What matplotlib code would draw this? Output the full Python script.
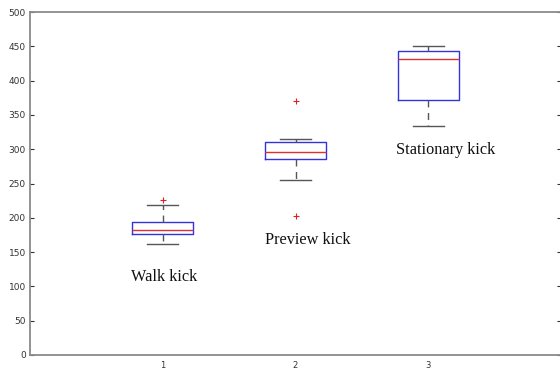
import matplotlib
matplotlib.use('Agg')
import matplotlib.pyplot as plt

labels = ['Walk kick', 'Preview kick', 'Stationary kick']
positions = [1, 2, 3]
whislo = [162, 255, 334]
q1 = [177, 285, 372]
med = [182, 296, 431]
q3 = [194, 310, 443]
whishi = [219, 315, 450]
fliers = [[226], [370, 203], []]
label_x = [1.01, 2.09, 3.13]
label_y = [113, 168, 299]

stats = []
for i in range(3):
    stats.append({'whislo': whislo[i], 'q1': q1[i], 'med': med[i], 'q3': q3[i],
                  'whishi': whishi[i], 'fliers': fliers[i]})

fig = plt.figure(figsize=(5.6, 3.7), dpi=100)
ax = fig.add_axes([30/560, 15/370, 531/560, 343/370])

ax.bxp(stats, positions=positions, widths=0.46,
       boxprops=dict(color='#3333dd', linewidth=1),
       medianprops=dict(color='#e03030', linewidth=1),
       whiskerprops=dict(color='#555555', linewidth=1, linestyle=(0, (5, 4))),
       capprops=dict(color='#555555', linewidth=1),
       flierprops=dict(marker='+', markeredgecolor='#e02020', markersize=5, markeredgewidth=0.8))

for x, y, t in zip(label_x, label_y, labels):
    ax.text(x, y, t, ha='center', va='center', fontsize=11.7, family='Liberation Serif',
            color='#111111')

ax.set_xlim(0, 4)
ax.set_ylim(0, 500)
ax.set_xticks([1, 2, 3])
ax.set_xticklabels(['1', '2', '3'])
ax.set_yticks(range(0, 501, 50))
ax.tick_params(axis='x', length=0, labelsize=6, colors='#333333', pad=4)
ax.tick_params(axis='y', length=3, direction='in', labelsize=6.5, colors='#333333',
               right=True, pad=3)
for s in ax.spines.values():
    s.set_color('#8a8a8a')
    s.set_linewidth(1.3)

fig.savefig('out.png', dpi=100)
